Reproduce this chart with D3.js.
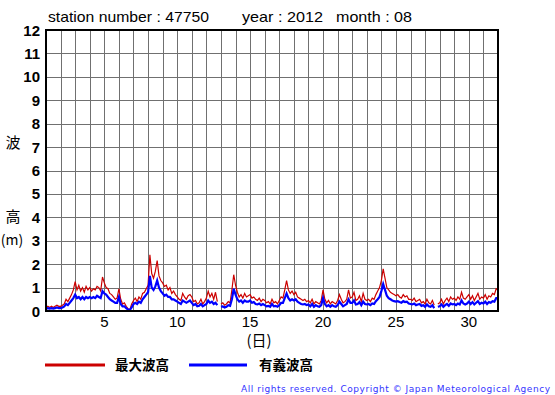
<!DOCTYPE html>
<html>
<head>
<meta charset="utf-8">
<script src="https://cdn.jsdelivr.net/npm/d3@7"></script>
<style>
  body { margin: 0; background: #fff; }
  svg { display: block; }
</style>
</head>
<body>
<div id="chart"></div>
<script>
// wave height, 3-hourly readings from Aug 1 00h to Sep 1 00h (m)
const maxWave = [
  0.15,0.2,0.15,0.2,0.15,0.2,0.25,0.2,
  0.2,0.25,0.3,0.5,0.4,0.55,0.7,0.9,
  1.25,0.9,1.1,0.85,1.0,0.8,1.05,0.9,
  1.0,0.85,0.95,0.9,1.05,1.0,0.85,1.45,
  1.2,1.0,0.95,0.75,0.7,0.6,0.5,0.55,
  0.95,0.5,0.3,0.35,0.2,0.1,0.05,0.3,
  0.45,0.55,0.4,0.6,0.5,0.75,0.8,0.95,
  1.1,2.4,1.6,1.4,1.7,2.15,1.5,1.3,
  1.2,1.05,1.1,0.9,1.0,0.75,0.85,0.7,
  0.6,0.5,0.45,0.75,0.6,0.5,0.65,0.7,
  0.6,0.4,0.45,0.3,0.35,0.5,0.3,0.4,
  0.55,0.85,0.6,0.75,0.5,0.8,0.4,null,
  0.3,0.35,0.25,0.3,0.4,0.35,0.9,1.55,
  1.1,0.8,0.6,0.7,0.55,0.75,0.6,0.65,
  0.7,0.55,0.6,0.5,0.45,0.55,0.4,0.5,
  0.45,0.35,0.4,0.3,0.5,0.35,0.4,0.3,
  0.45,0.6,0.55,0.9,1.3,0.9,0.75,0.85,
  0.7,0.8,0.6,0.55,0.5,0.45,0.5,0.4,
  0.45,0.35,0.5,0.3,0.4,0.35,0.3,0.45,
  0.9,0.5,0.35,0.45,0.3,0.4,0.35,0.3,
  0.45,0.7,0.5,0.35,0.4,0.5,0.9,0.55,
  0.6,0.8,0.45,0.5,0.65,0.4,0.75,0.5,
  0.45,0.5,0.4,0.55,0.5,0.7,0.85,1.0,
  1.3,1.8,1.4,1.0,0.9,0.8,0.75,0.7,
  0.65,0.7,0.6,0.55,0.7,0.6,0.65,0.5,
  0.5,0.45,0.55,0.4,0.45,0.5,0.35,0.4,
  0.3,0.5,0.35,0.3,0.45,0.25,null,0.3,
  0.35,0.5,0.3,0.45,0.55,0.4,0.6,0.5,
  0.55,0.45,0.6,0.5,0.8,0.55,0.5,0.6,
  0.7,0.5,0.65,0.45,0.6,0.75,0.5,0.6,
  0.55,0.7,0.5,0.65,0.6,0.75,0.7,0.95,
  0.9
];
const sigWave = [
  0.1,0.12,0.1,0.12,0.1,0.12,0.15,0.12,
  0.12,0.15,0.2,0.3,0.25,0.35,0.45,0.55,
  0.7,0.55,0.6,0.5,0.6,0.5,0.6,0.55,
  0.6,0.55,0.6,0.55,0.65,0.6,0.55,0.85,
  0.75,0.7,0.6,0.5,0.45,0.4,0.35,0.35,
  0.6,0.3,0.2,0.2,0.12,0.06,0.04,0.15,
  0.3,0.35,0.3,0.4,0.35,0.5,0.6,0.7,
  0.8,1.5,1.0,0.9,1.05,1.3,1.0,0.85,
  0.75,0.65,0.7,0.6,0.6,0.5,0.5,0.45,
  0.4,0.35,0.3,0.45,0.4,0.35,0.4,0.45,
  0.35,0.25,0.3,0.2,0.22,0.3,0.2,0.25,
  0.3,0.45,0.35,0.4,0.3,0.35,0.25,null,
  0.18,0.2,0.15,0.18,0.25,0.22,0.5,0.95,
  0.7,0.5,0.4,0.45,0.35,0.45,0.4,0.4,
  0.45,0.35,0.38,0.3,0.28,0.32,0.25,0.3,
  0.25,0.2,0.22,0.18,0.3,0.2,0.22,0.18,
  0.25,0.35,0.35,0.55,0.75,0.55,0.45,0.5,
  0.45,0.5,0.4,0.35,0.3,0.28,0.3,0.25,
  0.28,0.2,0.3,0.18,0.25,0.2,0.18,0.25,
  0.55,0.3,0.2,0.25,0.18,0.25,0.2,0.18,
  0.25,0.4,0.3,0.2,0.25,0.3,0.5,0.35,
  0.35,0.45,0.28,0.3,0.38,0.25,0.4,0.3,
  0.28,0.3,0.25,0.32,0.3,0.42,0.5,0.6,
  0.85,1.15,0.9,0.65,0.55,0.5,0.45,0.42,
  0.4,0.42,0.38,0.35,0.42,0.38,0.4,0.32,
  0.3,0.28,0.32,0.25,0.28,0.3,0.22,0.25,
  0.18,0.28,0.2,0.18,0.25,0.12,null,0.18,
  0.2,0.28,0.18,0.25,0.3,0.22,0.32,0.28,
  0.3,0.25,0.32,0.28,0.45,0.32,0.28,0.32,
  0.4,0.3,0.38,0.28,0.35,0.42,0.3,0.35,
  0.32,0.4,0.3,0.38,0.35,0.42,0.4,0.55,
  0.55
];
const xTicks = [5, 10, 15, 20, 25, 30];
const yTicks = [0,1,2,3,4,5,6,7,8,9,10,11,12];
const seriesNames = ['最大波高', '有義波高'];

const W = 555, H = 395;
const plotL = 46, plotR = 498, plotT = 30, plotB = 311;

const svg = d3.select('#chart').append('svg')
  .attr('width', W).attr('height', H);

const x = d3.scaleLinear().domain([1, 32]).range([plotL, plotR]);
const y = d3.scaleLinear().domain([0, 12]).range([plotB, plotT]);
const crisp = v => Math.round(v) + 0.5;

// grid: one line per day, one per metre
svg.append('g').selectAll('line').data(d3.range(2, 32)).join('line')
  .attr('x1', d => crisp(x(d))).attr('x2', d => crisp(x(d)))
  .attr('y1', plotT).attr('y2', plotB)
  .attr('stroke', '#707070').attr('stroke-width', 1);
svg.append('g').selectAll('line').data(d3.range(1, 12)).join('line')
  .attr('x1', plotL).attr('x2', plotR)
  .attr('y1', d => crisp(y(d))).attr('y2', d => crisp(y(d)))
  .attr('stroke', '#707070').attr('stroke-width', 1);

const toPts = arr => arr.map((v, i) => [1 + i / 8, v]);
const line = d3.line()
  .defined(d => d[1] != null)
  .x(d => x(d[0])).y(d => y(d[1]));

svg.append('path').datum(toPts(maxWave))
  .attr('d', line).attr('fill', 'none')
  .attr('stroke', '#cc0000').attr('stroke-width', 1.2);
svg.append('path').datum(toPts(sigWave))
  .attr('d', line).attr('fill', 'none')
  .attr('stroke', '#0000ff').attr('stroke-width', 2.2);

svg.append('rect')
  .attr('x', plotL).attr('y', plotT)
  .attr('width', plotR - plotL).attr('height', plotB - plotT)
  .attr('fill', 'none').attr('stroke', '#000').attr('stroke-width', 2);

// axis labels
const font = 'Liberation Sans, Arial, sans-serif';
svg.append('g').selectAll('text').data(yTicks).join('text')
  .attr('x', 40).attr('y', d => y(d) + 5.5)
  .attr('text-anchor', 'end')
  .attr('font-family', font).attr('font-weight', 'bold').attr('font-size', 15)
  .text(d => d);

svg.append('g').selectAll('text').data(xTicks).join('text')
  .attr('x', d => x(d)).attr('y', 327)
  .attr('text-anchor', 'middle')
  .attr('font-family', font).attr('font-size', 15)
  .text(d => d);

const jp = 'Noto Sans CJK JP, sans-serif';
svg.append('text').attr('x', 13).attr('y', 148).attr('text-anchor', 'middle')
  .attr('font-family', jp).attr('font-size', 15).text('波');
svg.append('text').attr('x', 13).attr('y', 222).attr('text-anchor', 'middle')
  .attr('font-family', jp).attr('font-size', 15).text('高');
svg.append('text').attr('x', 12).attr('y', 245).attr('text-anchor', 'middle')
  .attr('font-family', jp).attr('font-size', 14).text('(m)');
svg.append('text').attr('x', 259).attr('y', 346).attr('text-anchor', 'middle')
  .attr('font-family', jp).attr('font-size', 15).text('(日)');

// title
[['station number : 47750', 48, 161], ['year : 2012', 242, 81], ['month : 08', 336, 76]]
  .forEach(([t, tx, tl]) => {
    svg.append('text').attr('x', tx).attr('y', 22)
      .attr('font-family', font).attr('font-size', 15)
      .attr('textLength', tl).attr('lengthAdjust', 'spacingAndGlyphs')
      .text(t);
  });

// legend
const legend = [
  {name: seriesNames[0], color: '#cc0000', x0: 45, x1: 105, tx: 115},
  {name: seriesNames[1], color: '#0000ff', x0: 189, x1: 247, tx: 259}
];
legend.forEach(l => {
  svg.append('line').attr('x1', l.x0).attr('x2', l.x1)
    .attr('y1', 365).attr('y2', 365)
    .attr('stroke', l.color).attr('stroke-width', 3);
  svg.append('text').attr('x', l.tx).attr('y', 370)
    .attr('font-family', jp).attr('font-weight', 'bold').attr('font-size', 13.5)
    .text(l.name);
});

svg.append('text').attr('x', 241).attr('y', 392)
  .attr('font-family', 'DejaVu Sans, sans-serif').attr('font-size', 9)
  .attr('fill', '#3333ff')
  .attr('textLength', 309).attr('lengthAdjust', 'spacing')
  .text('All rights reserved. Copyright © Japan Meteorological Agency');
</script>
</body>
</html>
